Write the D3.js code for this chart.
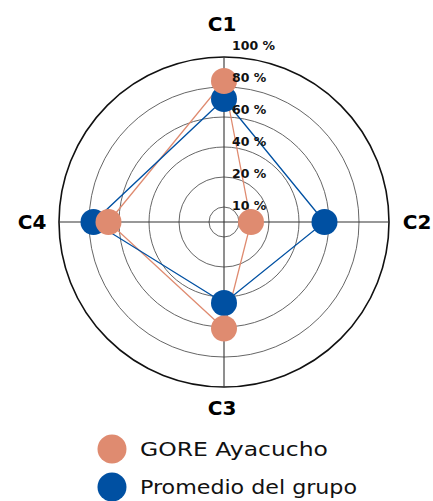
<!DOCTYPE html>
<html>
<head>
<meta charset="utf-8">
<script src="https://cdn.jsdelivr.net/npm/d3@7"></script>
<style>
  body { margin: 0; background: #fff; }
  text { font-family: "DejaVu Sans", sans-serif; }
</style>
</head>
<body>
<div id="chart"></div>
<script>
// data
const axes = ["C1", "C2", "C3", "C4"];
const gore = [84, 14, 61, 67];
const promedio = [72, 57, 44, 77];
const ringValues = [10, 20, 40, 60, 80, 100];
const ringLabels = ["10 %", "20 %", "40 %", "60 %", "80 %", "100 %"];
const seriesNames = ["GORE Ayacucho", "Promedio del grupo"];
const seriesColors = ["#df8b70", "#0050a2"];

const width = 433, height = 501;
const cx = 224, cy = 222;

const svg = d3.select("#chart")
    .append("svg")
    .attr("width", width)
    .attr("height", height);

// rings are evenly spaced but labelled 10/20/40/60/80/100
const r = d3.scaleLinear()
    .domain([0, 10, 20, 100])
    .range([0, 15, 45, 165]);

const angle = d3.scaleBand()
    .domain(axes)
    .range([0, 2 * Math.PI]);

function pt(axis, v) {
    const a = angle(axis) - Math.PI / 2;
    return [cx + r(v) * Math.cos(a), cy + r(v) * Math.sin(a)];
}

const g = svg.append("g");

// rings
g.selectAll("circle.ring")
    .data(ringValues)
    .enter().append("circle")
    .attr("class", "ring")
    .attr("cx", cx)
    .attr("cy", cy)
    .attr("r", d => r(d))
    .attr("fill", "none")
    .attr("stroke", d => d === 100 ? "#111" : "#555")
    .attr("stroke-width", d => d === 100 ? 1.6 : 0.9);

// axis lines
g.selectAll("line.axis")
    .data(axes)
    .enter().append("line")
    .attr("class", "axis")
    .attr("x1", cx)
    .attr("y1", cy)
    .attr("x2", d => pt(d, 100)[0])
    .attr("y2", d => pt(d, 100)[1])
    .attr("stroke", "#333")
    .attr("stroke-width", 1.1);

// axis names
const nameOffset = { C1: [-2, -33], C2: [28, 0], C3: [-2, 21], C4: [-27, 0] };
g.selectAll("text.axisname")
    .data(axes)
    .enter().append("text")
    .attr("class", "axisname")
    .attr("x", d => pt(d, 100)[0] + nameOffset[d][0])
    .attr("y", d => pt(d, 100)[1] + nameOffset[d][1])
    .attr("text-anchor", "middle")
    .attr("dy", "0.36em")
    .style("font-size", "20px")
    .style("font-weight", "bold")
    .text(d => d);

// series polygons and dots
const series = [gore, promedio];
const line = d3.line().curve(d3.curveLinearClosed);

series.forEach(function (vals, i) {
    const pts = axes.map((a, j) => pt(a, vals[j]));
    g.append("path")
        .attr("d", line(pts))
        .attr("fill", "none")
        .attr("stroke", seriesColors[i])
        .attr("stroke-width", 1.3);
});

// dots: blue first, orange on top
[1, 0].forEach(function (i) {
    g.selectAll(null)
        .data(axes)
        .enter().append("circle")
        .attr("cx", (d, j) => pt(d, series[i][j])[0])
        .attr("cy", (d, j) => pt(d, series[i][j])[1])
        .attr("r", 13)
        .attr("fill", seriesColors[i]);
});

// ring labels (slightly spread relative to rings)
const labelY = d3.scaleLinear().domain([15, 165]).range([12, 172]);
g.selectAll("text.ringlabel")
    .data(ringValues)
    .enter().append("text")
    .attr("class", "ringlabel")
    .attr("x", cx + 8)
    .attr("y", d => cy - labelY(r(d)))
    .style("font-size", "12.5px")
    .style("font-weight", "bold")
    .attr("fill", "#111")
    .text((d, i) => ringLabels[i]);

// legend
const legend = svg.append("g")
    .attr("transform", "translate(112,449)");

const items = legend.selectAll("g")
    .data(seriesNames)
    .enter().append("g")
    .attr("transform", (d, i) => "translate(0," + i * 38 + ")");

items.append("circle")
    .attr("r", 14.5)
    .attr("fill", (d, i) => seriesColors[i]);

items.append("text")
    .attr("x", 28)
    .attr("dy", "0.36em")
    .attr("textLength", (d, i) => [188, 217][i])
    .attr("lengthAdjust", "spacingAndGlyphs")
    .style("font-size", "20px")
    .attr("fill", "#111")
    .text(d => d);
</script>
</body>
</html>
